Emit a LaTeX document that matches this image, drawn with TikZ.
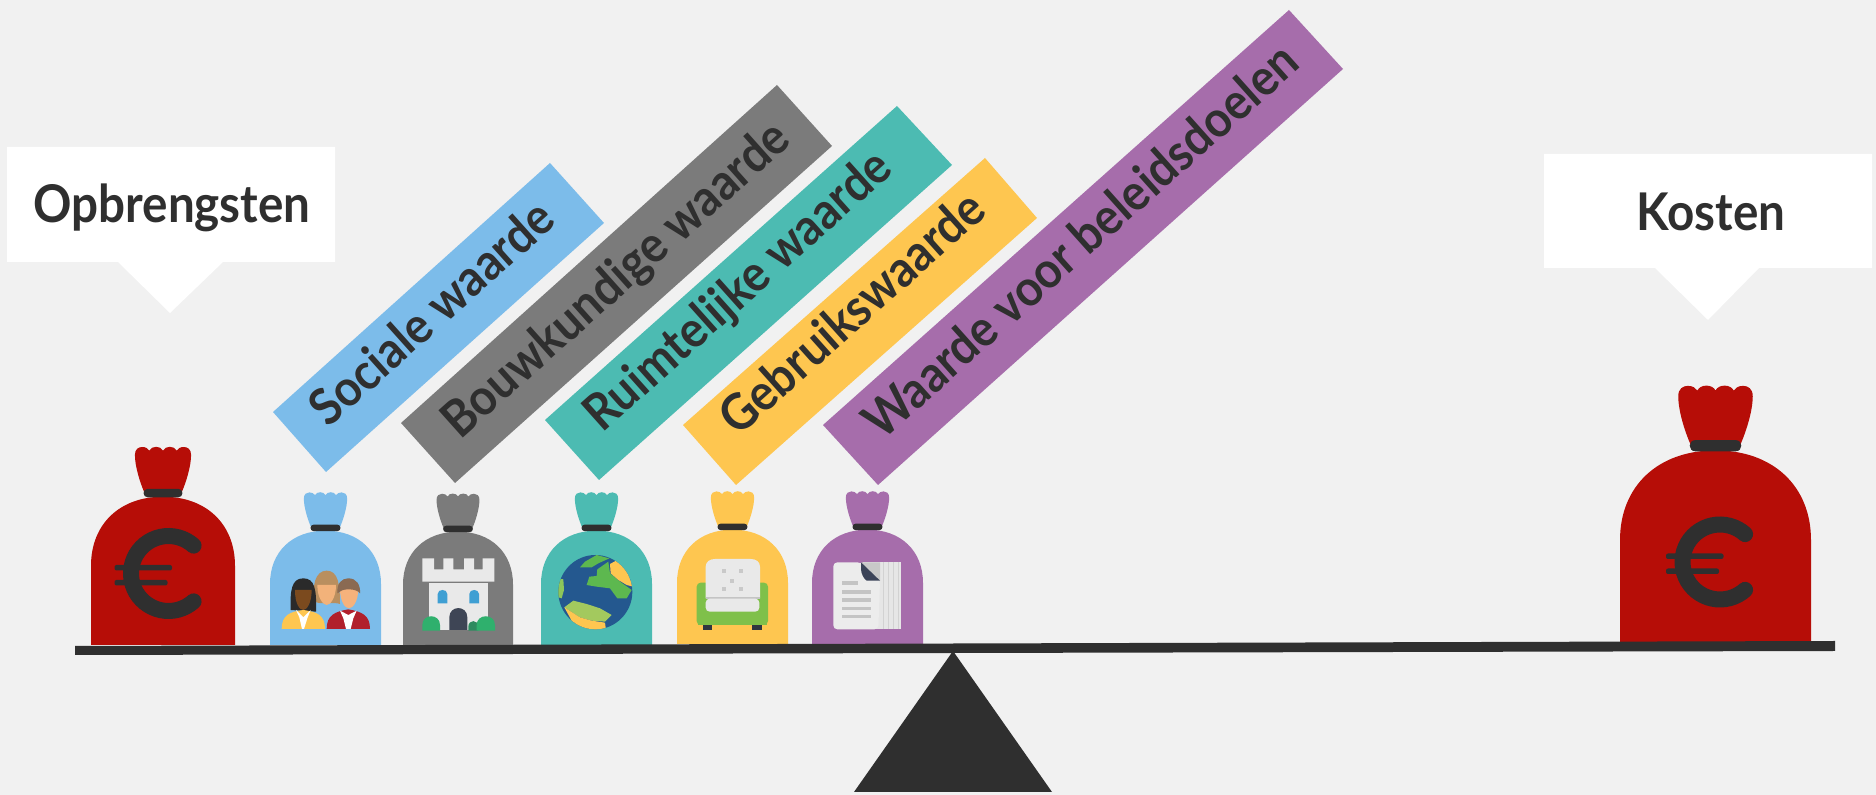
\documentclass[tikz,border=0pt]{standalone}
\usepackage{fontspec}
\setmainfont{Lato}[BoldFont=* Bold, FakeStretch=0.915]
\definecolor{bgc}{HTML}{F1F1F1}
\definecolor{ink}{HTML}{2F2F2F}
\definecolor{redbag}{HTML}{B60D07}
\definecolor{bluebag}{HTML}{7CBCEA}
\definecolor{graybag}{HTML}{7B7B7B}
\definecolor{tealbag}{HTML}{4CBBB2}
\definecolor{yellowbag}{HTML}{FEC650}
\definecolor{purplebag}{HTML}{A66DAB}
\definecolor{pale}{HTML}{E9E9E9}
\tikzset{
  hx/.code={\definecolor{tmphx}{HTML}{#1}\pgfkeysalso{fill=tmphx}},
  lab/.style={font=\fontsize{25.3}{28}\selectfont\bfseries, text=ink, inner sep=0pt, anchor=base west, rotate=41.8},
  callouttext/.style={font=\fontsize{26}{30}\selectfont\bfseries, text=ink, inner sep=0pt, anchor=base west},
  pics/bag/.style={code={
    \fill[#1] (-50,0) -- (-50,-55) .. controls (-50,-84) and (-30,-103) .. (0,-103)
       .. controls (30,-103) and (50,-84) .. (50,-55) -- (50,0) -- cycle;
    \fill[#1] (-13,-106) .. controls (-16,-113) and (-19.5,-124) .. (-19.5,-132)
       .. controls (-19.5,-136) and (-17,-137.5) .. (-14.5,-137.5)
       .. controls (-12,-137.5) and (-10.5,-136.5) .. (-9.5,-135)
       .. controls (-8,-138.5) and (-1.5,-138.5) .. (0,-135)
       .. controls (1.5,-138.5) and (8,-138.5) .. (9.5,-135)
       .. controls (10.5,-136.5) and (12,-137.5) .. (14.5,-137.5)
       .. controls (17,-137.5) and (19.5,-136) .. (19.5,-132)
       .. controls (19.5,-124) and (16,-113) .. (13,-106) -- cycle;
    \fill[ink] (-10.5,-108.5) -- (10.5,-108.5) .. controls (14.5,-108.5) and (14.5,-102.5) .. (10.5,-102.5)
       -- (-10.5,-102.5) .. controls (-14.5,-102.5) and (-14.5,-108.5) .. (-10.5,-108.5) -- cycle;
  }},
  pics/euro/.style={code={
    \draw[ink,line width=8pt,line cap=round] plot[smooth,samples=40,domain=48:312] ({37.5*cos(\x)},{37.5*sin(\x)});
    \fill[ink,rounded corners=1pt] (-54,-8.5) rectangle (3.5,-3);
    \fill[ink,rounded corners=1pt] (-54,6.5) rectangle (-1,12);
  }}
}
\begin{document}
\begin{tikzpicture}[x=0.5pt,y=-0.5pt]
\useasboundingbox (0,0) rectangle (1876,795);
\fill[bgc] (0,0) rectangle (1876,795);

% callouts
\fill[white] (7,147) -- (335,147) -- (335,262) -- (223,262) -- (170,313) -- (118,262) -- (7,262) -- cycle;
\node[callouttext] (opb) at (33,223) {Opbrengsten};
\fill[white] (1544,154) -- (1872,154) -- (1872,268) -- (1759,268) -- (1708,320) -- (1655,268) -- (1544,268) -- cycle;
\node[callouttext] (kos) at (1636,231) {Kosten};

% label bands
\fill[bluebag] (273,412) -- (326,472) -- (604,223) -- (550,163) -- cycle;
\node[lab] (l1) at (328,429) {Sociale waarde};
\fill[graybag] (401,423) -- (455,483) -- (832,146) -- (777,85) -- cycle;
\node[lab] (l2) at (460,441) {Bouwkundige waarde};
\fill[tealbag] (545,420) -- (599,480) -- (952,165) -- (897,106) -- cycle;
\node[lab] (l3) at (602,434) {Ruimtelijke waarde};
\fill[yellowbag] (683,425) -- (736,485) -- (1037,218) -- (985,158) -- cycle;
\node[lab] (l4) at (738,438) {Gebruikswaarde};
\fill[purplebag] (823,425) -- (878,485) -- (1343,69) -- (1289,10) -- cycle;
\node[lab] (l5) at (882,442) {Waarde voor beleidsdoelen};

% bags
\pic[scale=1.44] at (163,645) {bag=redbag};
\pic[xscale=1.91,yscale=1.87] at (1715.5,643) {bag=redbag};
\pic[scale=1.11] at (325.5,645) {bag=bluebag};
\pic[scale=1.10] at (458,645) {bag=graybag};
\pic[scale=1.11] at (596.5,645) {bag=tealbag};
\pic[scale=1.11] at (732.5,644) {bag=yellowbag};
\pic[scale=1.11] at (867.5,644) {bag=purplebag};
\pic at (168.5,573.5) {euro};
\pic at (1720,562) {euro};

% beam and fulcrum
\fill[ink] (75,646) -- (1835,641) -- (1835,651) -- (75,655) -- cycle;
\fill[ink] (953,651) -- (854,792) -- (1052,792) -- cycle;

% people icon
\begin{scope}[shift={(260,530)},scale=1/3]
  \fill[hx=B98F5F] (165,215) .. controls (155,170) and (165,122) .. (200,122) .. controls (235,122) and (240,165) .. (240,222) .. controls (225,215) and (180,225) .. (165,215) -- cycle;
  \fill[hx=F2B27A] (172,165) -- (228,165) .. controls (228,205) and (210,225) .. (200,225) .. controls (190,225) and (172,205) .. (172,165) -- cycle;
  \fill[hx=2A2A2A] (92,240) .. controls (90,180) and (95,145) .. (130,145) .. controls (165,145) and (170,180) .. (168,245) -- cycle;
  \fill[hx=7B4A1E] (105,180) -- (155,180) .. controls (155,220) and (140,240) .. (130,240) .. controls (118,240) and (105,220) .. (105,180) -- cycle;
  \fill[yellowbag] (65,297) .. controls (65,255) and (90,245) .. (130,240) .. controls (170,245) and (195,255) .. (195,297) -- cycle;
  \fill[white] (108,240) -- (130,262) -- (152,240) -- (143,262) -- (132,297) -- (126,297) -- (118,262) -- cycle;
  \fill[hx=B1202C] (200,297) .. controls (200,255) and (225,245) .. (265,238) .. controls (305,245) and (330,255) .. (330,297) -- cycle;
  \fill[white] (240,242) -- (265,255) -- (290,242) -- (280,265) -- (272,297) -- (258,297) -- (250,265) -- cycle;
  \fill[hx=F6B27C] (240,175) -- (295,175) .. controls (295,215) and (278,235) .. (267,235) .. controls (255,235) and (240,215) .. (240,175) -- cycle;
  \fill[hx=8A6A52] (232,190) .. controls (230,160) and (245,145) .. (265,145) .. controls (290,145) and (302,165) .. (300,190) .. controls (290,175) and (250,175) .. (240,185) -- cycle;
\end{scope}

% castle icon
\begin{scope}[shift={(260,530)},scale=1/3]
  \fill[pale] (487,85) -- (522,85) -- (522,118) -- (550,118) -- (550,85) -- (580,85) -- (580,118) -- (612,118) -- (612,85) -- (642,85) -- (642,118) -- (668,118) -- (668,85) -- (703,85) -- (703,155) -- (487,155) -- cycle;
  \fill[pale] (508,160) rectangle (683,300);
  \fill[hx=3F9FD3] (533,220) -- (533,192) .. controls (533,176) and (562,176) .. (562,192) -- (562,220) -- cycle;
  \fill[hx=3F9FD3] (628,220) -- (628,192) .. controls (628,176) and (657,176) .. (657,192) -- (657,220) -- cycle;
  \fill[hx=3E4555] (568,300) -- (568,262) .. controls (568,225) and (622,225) .. (622,262) -- (622,300) -- cycle;
  \fill[hx=2E8B5F] (625,302) -- (625,290) .. controls (625,268) and (655,268) .. (655,290) -- (655,302) -- cycle;
  \fill[hx=2FB06D] (487,302) -- (487,285) .. controls (487,250) and (540,250) .. (540,285) -- (540,302) -- cycle;
  \fill[hx=2FB06D] (650,302) -- (650,285) .. controls (650,250) and (705,250) .. (705,285) -- (705,302) -- cycle;
\end{scope}

% globe, chair, document icons
\begin{scope}[shift={(530,530)},scale=1/3]
  \begin{scope}
    \clip (85,186) .. controls (85,125) and (135,75) .. (196,75) .. controls (257,75) and (307,125) .. (307,186) .. controls (307,247) and (257,298) .. (196,298) .. controls (135,298) and (85,247) .. (85,186) -- cycle;
    \fill[hx=24588F] (80,70) rectangle (312,302);
    \fill[hx=5DB84F] (150,112) -- (165,95) -- (200,75) -- (238,85) -- (205,100) -- (185,112) -- cycle;
    \fill[hx=8DC65A] (80,145) -- (100,148) -- (102,180) -- (95,205) -- (80,200) -- cycle;
    \fill[hx=5DB84F] (170,165) -- (178,140) -- (200,138) -- (202,118) -- (235,95) -- (240,130) -- (270,155) -- (305,180) -- (290,205) -- (262,205) -- (240,175) -- (200,170) -- cycle;
    \fill[hx=FEC650] (240,102) -- (262,90) -- (290,115) -- (310,170) -- (290,165) -- (265,150) -- (242,130) -- cycle;
    \fill[hx=A3C95E] (103,232) -- (130,212) -- (170,222) -- (210,235) -- (245,255) -- (225,275) -- (185,272) -- (150,262) -- cycle;
    \fill[hx=FEC650] (103,232) -- (150,262) -- (185,272) -- (225,278) -- (228,300) -- (165,300) -- (125,272) -- cycle;
  \end{scope}
  % chair
  \fill[hx=7FC04A,rounded corners=2pt] (500,158) rectangle (538,285);
  \fill[hx=7FC04A,rounded corners=2pt] (676,158) rectangle (714,285);
  \fill[hx=7FC04A] (505,240) rectangle (710,285);
  \fill[pale] (527,205) -- (527,110) .. controls (527,95) and (540,87) .. (555,87) -- (662,87) .. controls (678,87) and (690,95) .. (690,110) -- (690,205) -- cycle;
  \foreach \cx/\cy in {582/123,632/123,606/152,582/178,632/178}
    \fill[hx=C9C9C9] (\cx-6,\cy-6) rectangle (\cx+6,\cy+6);
  \fill[hx=C4C4C4] (527,201) rectangle (690,207);
  \fill[pale,rounded corners=2pt] (527,206) rectangle (688,245);
  \fill[hx=2F3640] (518,285) rectangle (547,299);
  \fill[hx=2F3640] (667,285) rectangle (695,299);
  % document
  \fill[hx=E6E6E6] (1000,97) rectangle (1112,298);
  \foreach \sx in {1058,1073,1088,1103}
    \fill[hx=D2D2D2] (\sx,97) rectangle (\sx+5,298);
  \fill[hx=ECECEC,rounded corners=2pt] (910,97) -- (993,97) -- (1050,152) -- (1045,298) -- (910,298) -- cycle;
  \fill[hx=C8C8C8] (993,97) -- (1050,97) -- (1050,152) -- cycle;
  \fill[hx=3B4358] (993,97) -- (1050,152) -- (1010,152) .. controls (1000,145) and (993,130) .. (993,115) -- cycle;
  \fill[hx=C4C4C4] (937,153) rectangle (985,165);
  \foreach \ly in {180,205,230,254}
    \fill[hx=C4C4C4] (937,\ly) rectangle (1022,\ly+11);
\end{scope}
\end{tikzpicture}
\end{document}
